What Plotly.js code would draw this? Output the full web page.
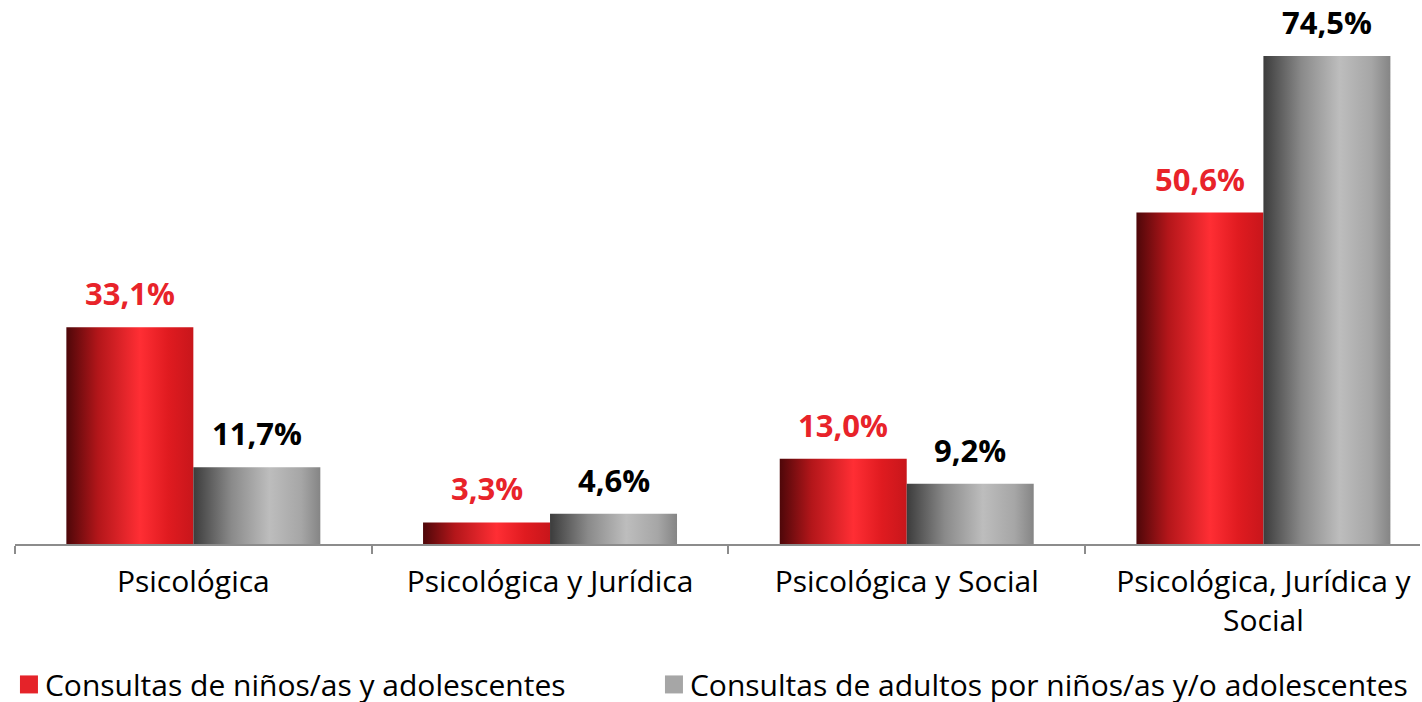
<!DOCTYPE html>
<html>
<head>
<meta charset="utf-8">
<script src="https://cdn.plot.ly/plotly-3.0.1.min.js"></script>
<style>html,body{margin:0;padding:0;background:#fff;}#chart{width:1422px;height:702px;}</style>
</head>
<body>
<div id="chart"></div>
<script>
const categories = ["Psicológica", "Psicológica y Jurídica", "Psicológica y Social", "Psicológica, Jurídica y<br>Social"];
const seriesNames = ["Consultas de niños/as y adolescentes", "Consultas de adultos por niños/as y/o adolescentes"];
const ninos = [33.1, 3.3, 13.0, 50.6];
const adultos = [11.7, 4.6, 9.2, 74.5];

const FONT = "'Open Sans', sans-serif";
const RED = "#e52329", GRAY = "#a6a6a6";

const traces = [
  {type: "bar", name: seriesNames[0], x: categories, y: ninos, marker: {color: RED}, hoverinfo: "none"},
  {type: "bar", name: seriesNames[1], x: categories, y: adultos, marker: {color: GRAY}, hoverinfo: "none"}
];

const annotations = [];
[[ninos, "#e8232a", -63.5], [adultos, "#000000", 63.5]].forEach(([vals, col, dx]) => {
  vals.forEach((v, i) => {
    annotations.push({
      x: categories[i], y: v, xref: "x", yref: "y",
      text: v.toFixed(1).replace(".", ",") + "%",
      showarrow: false, yanchor: "bottom", xshift: dx, yshift: 11,
      font: {family: FONT, size: 31, color: col, weight: "bold"}
    });
  });
});

const layout = {
  width: 1422, height: 702,
  margin: {l: 15, r: 2, t: 20, b: 158, autoexpand: false},
  paper_bgcolor: "#fff", plot_bgcolor: "#fff",
  barmode: "group", bargap: 0.288, bargroupgap: 0,
  font: {family: FONT, size: 30, color: "#000"},
  xaxis: {
    type: "category", range: [-0.5, 3.439], showline: true, linecolor: "#8c8c8c", linewidth: 2,
    ticks: "outside", tickson: "boundaries", ticklen: 8, tickcolor: "#8c8c8c", tickwidth: 2,
    ticklabelstandoff: 10, automargin: false,
    tickfont: {family: FONT, size: 30, color: "#000"}, showgrid: false, zeroline: false
  },
  yaxis: {range: [0, 80.0], visible: false, showgrid: false, zeroline: false},
  showlegend: true,
  legend: {orientation: "h", x: -0.0043, xanchor: "left", y: -0.268, yanchor: "middle",
    font: {family: FONT, size: 30, color: "#000"}, entrywidth: 600, entrywidthmode: "pixels",
    traceorder: "normal"},
  annotations: annotations
};

Plotly.newPlot("chart", traces, layout, {staticPlot: true}).then(gd => {
  const svg = gd.querySelector("svg.main-svg");
  const ns = "http://www.w3.org/2000/svg";
  let defs = svg.querySelector("defs");
  if (!defs) { defs = document.createElementNS(ns, "defs"); svg.insertBefore(defs, svg.firstChild); }
  function grad(id, stops) {
    const g = document.createElementNS(ns, "linearGradient");
    g.setAttribute("id", id);
    g.setAttribute("x1", "0"); g.setAttribute("y1", "0"); g.setAttribute("x2", "1"); g.setAttribute("y2", "0");
    stops.forEach(([o, c]) => {
      const s = document.createElementNS(ns, "stop");
      s.setAttribute("offset", o); s.setAttribute("stop-color", c);
      g.appendChild(s);
    });
    defs.appendChild(g);
  }
  grad("gRed", [["0", "#4e0709"], ["0.25", "#b3161a"], ["0.58", "#ff2e34"], ["0.8", "#e01b20"], ["1", "#c8161b"]]);
  grad("gGray", [["0", "#3c3c3c"], ["0.3", "#8a8a8a"], ["0.6", "#bdbdbd"], ["0.85", "#a6a6a6"], ["1", "#858585"]]);
  const tr = gd.querySelectorAll(".barlayer .trace");
  ["gRed", "gGray"].forEach((id, k) => {
    if (tr[k]) tr[k].querySelectorAll("path").forEach(p => { p.style.fill = "url(#" + id + ")"; });
  });
  gd.querySelectorAll(".legendpoints path").forEach(p => {
    const t0 = p.getAttribute("transform") || "";
    p.setAttribute("transform", t0 + " scale(1.5)");
    p.style.strokeWidth = "0";
  });
  gd.querySelectorAll(".legendtext").forEach(t => {
    const x = parseFloat(t.getAttribute("x") || "40");
    t.setAttribute("x", x - 4);
  });
  gd.querySelectorAll(".legend [clip-path], .legend").forEach(el => el.removeAttribute("clip-path"));
  gd.querySelectorAll(".legend clipPath rect").forEach(r => r.setAttribute("width", "1600"));
});
</script>
</body>
</html>
